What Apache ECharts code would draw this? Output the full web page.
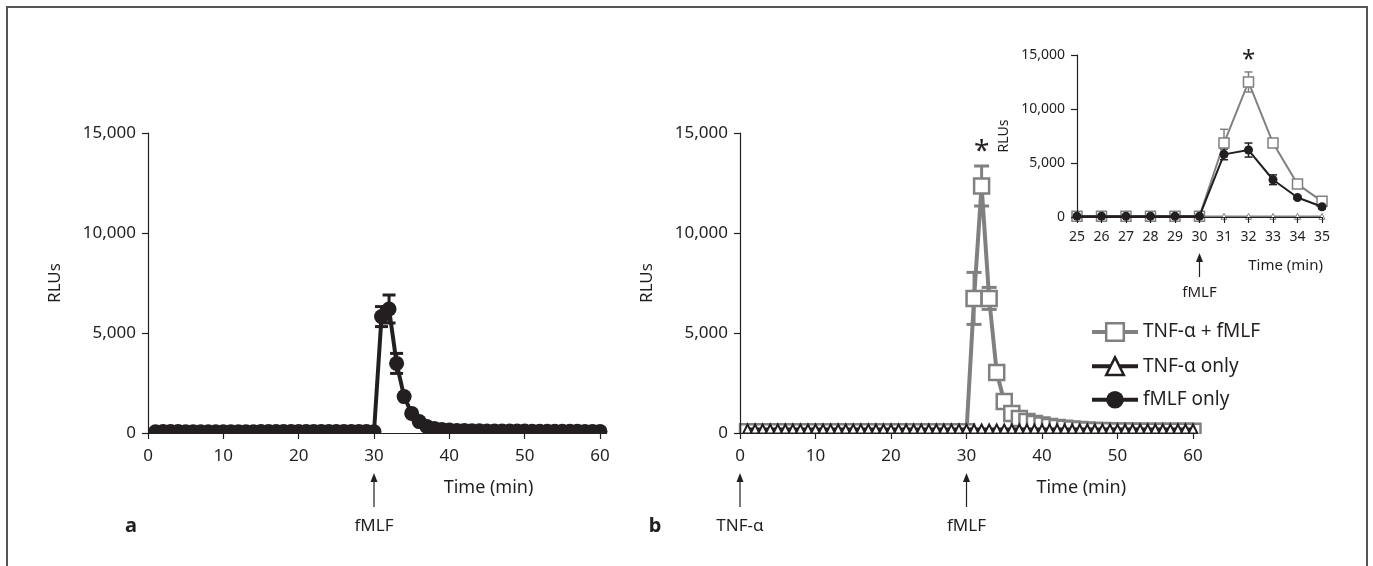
<!DOCTYPE html>
<html>
<head>
<meta charset="utf-8">
<script src="https://cdn.jsdelivr.net/npm/echarts@6/dist/echarts.min.js"></script>
<style>
html, body { margin: 0; padding: 0; background: #fff; }
#fig { width: 1373px; height: 566px; }
</style>
</head>
<body>
<div id="fig"></div>
<script>
//////////// 데이터 ////////////
// 시간 (min)
var timeMain = [1, 2, 3, 4, 5, 6, 7, 8, 9, 10, 11, 12, 13, 14, 15, 16, 17, 18, 19, 20,
	21, 22, 23, 24, 25, 26, 27, 28, 29, 30, 31, 32, 33, 34, 35, 36, 37, 38, 39, 40,
	41, 42, 43, 44, 45, 46, 47, 48, 49, 50, 51, 52, 53, 54, 55, 56, 57, 58, 59, 60];
var timeInset = [25, 26, 27, 28, 29, 30, 31, 32, 33, 34, 35];

// a : fMLF only
var fmlfA = [60, 70, 80, 70, 60, 60, 60, 60, 60, 60, 60, 60, 60, 60, 70, 70, 70, 70, 70, 70,
	80, 80, 80, 80, 80, 80, 80, 80, 70, 60, 5820, 6200, 3480, 1820, 980, 570, 330, 230, 180, 150,
	130, 120, 110, 110, 100, 100, 100, 100, 100, 100, 90, 90, 90, 90, 90, 90, 90, 80, 80, 80];
var errTimeA = [31, 32, 33];
var errA = [500, 700, 500];

// b : TNF-α + fMLF / TNF-α only
var tnfFmlfB = [60, 60, 60, 60, 60, 60, 60, 60, 60, 60, 60, 60, 60, 60, 60, 60, 60, 60, 60, 60,
	60, 60, 60, 60, 60, 60, 60, 60, 60, 60, 6730, 12350, 6730, 3030, 1570, 980, 730, 570, 480, 400,
	330, 280, 240, 200, 170, 150, 130, 120, 110, 100, 100, 100, 90, 90, 90, 90, 90, 90, 90, 90];
var tnfOnlyB = [200, 200, 200, 200, 200, 200, 200, 200, 200, 200, 200, 200, 200, 200, 200, 200, 200, 200, 200, 200,
	200, 200, 200, 200, 200, 200, 200, 200, 200, 200, 200, 200, 200, 200, 200, 200, 200, 200, 200, 200,
	200, 200, 200, 200, 200, 200, 200, 200, 200, 200, 200, 200, 200, 200, 200, 200, 200, 200, 200, 200];
var errTimeB = [31, 32, 33];
var errB = [1300, 1000, 550];

// inset (25-35 min)
var insetTnfFmlf = [80, 80, 80, 80, 80, 80, 6850, 12500, 6850, 3050, 1450];
var insetTnfOnly = [60, 60, 60, 60, 60, 60, 60, 60, 60, 60, 60];
var insetFmlf = [80, 80, 80, 80, 80, 80, 5800, 6200, 3450, 1800, 950];
var insetErrSq = [0, 0, 0, 0, 0, 0, 1270, 930, 300, 200, 300];
var insetErrCirc = [0, 0, 0, 0, 0, 0, 500, 650, 450, 150, 200];

// y축 눈금
var yMax = 15000;
var yStep = 5000;

//////////// 스타일 ////////////
var FONT = '"Noto Sans", "DejaVu Sans", sans-serif';
var INK = '#231f20';
var GRAY = '#808080';

//////////// 유틸 ////////////
// 3자리 숫자 이상에 콤마
function numberWithCommas(x) {
	return x.toString().replace(/\B(?=(\d{3})+(?!\d))/g, ",");
}

function pairs(xs, ys) {
	var out = [];
	for (var i = 0; i < xs.length; i++) out.push([xs[i], ys[i]]);
	return out;
}

// 에러바 (custom series)
function errorBars(gridIdx, xs, ys, errs, color, capW, lw) {
	var data = [];
	for (var i = 0; i < xs.length; i++) {
		if (errs[i] > 0) data.push([xs[i], ys[i] - errs[i], ys[i] + errs[i]]);
	}
	return {
		type: 'custom',
		xAxisIndex: gridIdx,
		yAxisIndex: gridIdx,
		z: 1,
		silent: true,
		data: data,
		encode: { x: 0, y: [1, 2] },
		renderItem: function(params, api) {
			var lo = api.coord([api.value(0), api.value(1)]);
			var hi = api.coord([api.value(0), api.value(2)]);
			var st = { stroke: color, lineWidth: lw };
			return {
				type: 'group',
				children: [
					{ type: 'line', shape: { x1: hi[0], y1: hi[1], x2: lo[0], y2: lo[1] }, style: st },
					{ type: 'line', shape: { x1: hi[0] - capW / 2, y1: hi[1], x2: hi[0] + capW / 2, y2: hi[1] }, style: st },
					{ type: 'line', shape: { x1: lo[0] - capW / 2, y1: lo[1], x2: lo[0] + capW / 2, y2: lo[1] }, style: st }
				]
			};
		}
	};
}

function xAxisCfg(gridIdx, min, max, step, fs, margin) {
	return {
		type: 'value', gridIndex: gridIdx, min: min, max: max, interval: step, z: 100,
		axisLine: { show: true, onZero: false, lineStyle: { color: INK, width: 1.2 } },
		axisTick: { show: true, length: 6, lineStyle: { color: INK, width: 1.2 } },
		splitLine: { show: false },
		axisLabel: { fontSize: fs, color: INK, fontFamily: FONT, margin: margin, showMinLabel: true, showMaxLabel: true }
	};
}

function yAxisCfg(gridIdx, fs, gap, nameFs) {
	return {
		type: 'value', gridIndex: gridIdx, min: 0, max: yMax, interval: yStep, z: 100,
		axisLine: { show: true, lineStyle: { color: INK, width: 1.2 } },
		axisTick: { show: true, length: 6, lineStyle: { color: INK, width: 1.2 } },
		splitLine: { show: false },
		axisLabel: { fontSize: fs, color: INK, fontFamily: FONT, margin: 12, formatter: numberWithCommas },
		name: 'RLUs', nameLocation: 'middle', nameGap: gap, nameRotate: 90,
		nameTextStyle: { fontSize: nameFs, color: INK, fontFamily: FONT }
	};
}

//////////// 차트 구성 ////////////
var chart = echarts.init(document.getElementById('fig'));

var option = {
	animation: false,
	backgroundColor: '#fff',
	grid: [
		{ left: 148, top: 133, width: 452, height: 300 },
		{ left: 740, top: 133, width: 453, height: 300 },
		{ left: 1077, top: 55, width: 245, height: 162 }
	],
	xAxis: [
		xAxisCfg(0, 0, 60, 10, 17, 15),
		xAxisCfg(1, 0, 60, 10, 17, 15),
		xAxisCfg(2, 25, 35, 1, 14, 13)
	],
	yAxis: [
		yAxisCfg(0, 17, 84, 17),
		yAxisCfg(1, 17, 84, 17),
		yAxisCfg(2, 14, 66, 14)
	],
	legend: {
		orient: 'vertical',
		left: 1085,
		top: 317,
		itemWidth: 46,
		itemHeight: 22,
		itemGap: 14,
		selectedMode: false,
		textStyle: { fontSize: 19, color: INK, fontFamily: FONT, padding: [0, 0, 0, 0] },
		data: [
			{ name: 'TNF-α + fMLF', lineStyle: { color: GRAY, width: 4 }, itemStyle: { color: '#fff', borderColor: GRAY, borderWidth: 2.5 } },
			{ name: 'TNF-α only', lineStyle: { color: INK, width: 4 }, itemStyle: { color: '#fff', borderColor: INK, borderWidth: 2.5 } },
			{ name: 'fMLF only', lineStyle: { color: INK, width: 4 }, itemStyle: { color: INK } }
		]
	},
	series: [
		// b
		{
			name: 'TNF-α + fMLF', type: 'line', xAxisIndex: 1, yAxisIndex: 1, z: 2,
			data: pairs(timeMain, tnfFmlfB),
			symbol: 'rect', symbolSize: 15,
			lineStyle: { color: GRAY, width: 4 },
			itemStyle: { color: '#fff', borderColor: GRAY, borderWidth: 2.5 }
		},
		{
			name: 'TNF-α only', type: 'line', xAxisIndex: 1, yAxisIndex: 1, z: 3,
			data: pairs(timeMain, tnfOnlyB),
			symbol: 'triangle', symbolSize: [9, 9],
			lineStyle: { color: INK, width: 3 },
			itemStyle: { color: '#fff', borderColor: INK, borderWidth: 2 }
		},
		// a
		{
			name: 'fMLF only', type: 'line', xAxisIndex: 0, yAxisIndex: 0, z: 2,
			data: pairs(timeMain, fmlfA),
			symbol: 'circle', symbolSize: 15,
			lineStyle: { color: INK, width: 4 },
			itemStyle: { color: INK, borderColor: INK, borderWidth: 0 }
		},
		// inset
		{
			name: 'TNF-α + fMLF', type: 'line', xAxisIndex: 2, yAxisIndex: 2, z: 2,
			data: pairs(timeInset, insetTnfFmlf),
			symbol: 'rect', symbolSize: 10,
			lineStyle: { color: GRAY, width: 2 },
			itemStyle: { color: '#fff', borderColor: GRAY, borderWidth: 1.5 }
		},
		{
			name: 'TNF-α only', type: 'line', xAxisIndex: 2, yAxisIndex: 2, z: 2,
			data: pairs(timeInset, insetTnfOnly),
			symbol: 'triangle', symbolSize: [6, 6],
			lineStyle: { color: GRAY, width: 1.5 },
			itemStyle: { color: '#fff', borderColor: GRAY, borderWidth: 1 }
		},
		{
			name: 'fMLF only', type: 'line', xAxisIndex: 2, yAxisIndex: 2, z: 3,
			data: pairs(timeInset, insetFmlf),
			symbol: 'circle', symbolSize: 9,
			lineStyle: { color: INK, width: 2 },
			itemStyle: { color: INK }
		},
		errorBars(0, errTimeA, [fmlfA[30], fmlfA[31], fmlfA[32]], errA, INK, 13, 3),
		errorBars(1, errTimeB, [tnfFmlfB[30], tnfFmlfB[31], tnfFmlfB[32]], errB, GRAY, 15, 3),
		errorBars(2, timeInset, insetTnfFmlf, insetErrSq, GRAY, 8, 1.5),
		errorBars(2, timeInset, insetFmlf, insetErrCirc, INK, 8, 1.5)
	]
};

chart.setOption(option);

//////////// 주석 (화살표, 텍스트) ////////////
function px(gridIdx, x, y) {
	return chart.convertToPixel({ gridIndex: gridIdx }, [x, y]);
}

function arrow(p, top, bottom) {
	return [
		{ type: 'line', z: 120, shape: { x1: p[0], y1: top + 6, x2: p[0], y2: bottom }, style: { stroke: INK, lineWidth: 1.2 } },
		{ type: 'polygon', z: 120, shape: { points: [[p[0], top], [p[0] - 3.5, top + 9], [p[0] + 3.5, top + 9]] }, style: { fill: INK } }
	];
}

function label(text, x, y, fs, align, weight) {
	return {
		type: 'text', z: 120, x: x, y: y,
		style: {
			text: text, fill: INK, font: (weight || 'normal') + ' ' + fs + 'px ' + FONT,
			align: align || 'center', verticalAlign: 'middle'
		}
	};
}

var a0 = px(0, 30, 0);
var b0 = px(1, 0, 0);
var b30 = px(1, 30, 0);
var i30 = px(2, 30, 0);
var aT = px(0, 45.2, 0);
var bT = px(1, 45.2, 0);
var iT = px(2, 31.5, 0);
var bStar = px(1, 32, 0);
var iStar = px(2, 32, 0);

var g = [];
// 테두리
g.push({ type: 'rect', z: 0, shape: { x: 7, y: 7, width: 1360, height: 600 }, style: { fill: 'none', stroke: '#555', lineWidth: 2 } });
// x축 아래 마커 가림
g.push({ type: 'rect', z: 50, shape: { x: 140, y: a0[1] + 1, width: 470, height: 9 }, style: { fill: '#fff' } });
g.push({ type: 'rect', z: 50, shape: { x: 732, y: b0[1] + 1, width: 470, height: 9 }, style: { fill: '#fff' } });

g = g.concat(arrow(a0, a0[1] + 40, a0[1] + 74));
g = g.concat(arrow(b0, b0[1] + 40, b0[1] + 74));
g = g.concat(arrow(b30, b30[1] + 40, b30[1] + 74));
g = g.concat(arrow(i30, i30[1] + 36, i30[1] + 60));

g.push(label('fMLF', a0[0], a0[1] + 93, 17));
g.push(label('TNF-α', b0[0], b0[1] + 93, 17));
g.push(label('fMLF', b30[0], b30[1] + 93, 17));
g.push(label('fMLF', i30[0], i30[1] + 76, 15));

g.push(label('Time (min)', aT[0], aT[1] + 55, 18));
g.push(label('Time (min)', bT[0], bT[1] + 55, 18));
g.push(label('Time (min)', iT[0] + 12, iT[1] + 49, 15, 'left'));

g.push(label('a', 131, a0[1] + 93, 20, 'center', 'bold'));
g.push(label('b', 655, b0[1] + 93, 20, 'center', 'bold'));

g.push(label('*', bStar[0], 152, 28));
g.push(label('*', iStar[0], 60, 24));

chart.setOption({ graphic: g });
</script>
